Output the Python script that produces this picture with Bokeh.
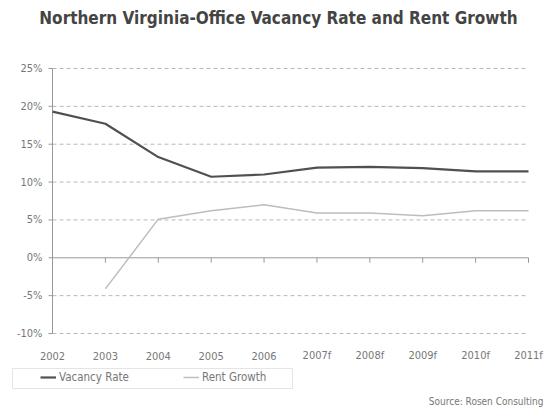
import math
from bokeh.plotting import figure
from bokeh.models import (ColumnDataSource, Range1d, Legend, LegendItem, Label,
                          BoxAnnotation)
from bokeh.core.properties import value
from bokeh.embed import file_html
from bokeh.resources import INLINE

categories = ["2002", "2003", "2004", "2005", "2006", "2007f", "2008f", "2009f", "2010f", "2011f"]
vacancy_rate = [19.3, 17.7, 13.3, 10.7, 11.0, 11.9, 12.0, 11.85, 11.4, 11.4]
rent_growth = [None, -4.1, 5.1, 6.2, 7.0, 5.9, 5.9, 5.55, 6.2, 6.2]
y_ticks = [-10, -5, 0, 5, 10, 15, 20, 25]
y_tick_labels = ["-10%", "-5%", "0%", "5%", "10%", "15%", "20%", "25%"]
title_text = "Northern Virginia-Office Vacancy Rate and Rent Growth"
source_text = "Source: Rosen Consulting"

FONT = "'DejaVu Sans Condensed', 'Liberation Sans Narrow', sans-serif"
AXIS_C = "#999999"
LABEL_C = "#777777"

# canvas / plotting-area geometry (pixels)
W, H = 544, 408
AX_L, AX_R, AX_T, AX_B = 52, 528, 68, 333

xs = list(range(len(categories)))
ymin, ymax = min(y_ticks), max(y_ticks)
kx = (AX_R - AX_L) / (xs[-1] - xs[0])
ky = (AX_B - AX_T) / (ymax - ymin)
x_range = Range1d(xs[0] - AX_L / kx, xs[-1] + (W - AX_R) / kx)
y_range = Range1d(ymin - (H - AX_B) / ky, ymax + AX_T / ky)

src_v = ColumnDataSource(dict(x=xs, y=vacancy_rate))
rx = [x for x, v in zip(xs, rent_growth) if v is not None]
ry = [v for v in rent_growth if v is not None]
src_r = ColumnDataSource(dict(x=rx, y=ry))

p = figure(width=W, height=H, output_backend="svg", toolbar_location=None,
           x_range=x_range, y_range=y_range, title=None,
           x_axis_type=None, y_axis_type=None,
           min_border_left=0, min_border_right=0, min_border_top=0, min_border_bottom=0)
p.outline_line_color = None
p.background_fill_color = "white"
p.border_fill_color = "white"
p.grid.visible = False

# dashed horizontal gridlines (not at 0)
grid_y = [t for t in y_ticks if t != 0]
p.segment(x0=[xs[0]] * len(grid_y), y0=grid_y, x1=[xs[-1]] * len(grid_y), y1=grid_y,
          line_color="#b8b8b8", line_width=1, line_dash="4 3")

# y axis line, ticks and labels
p.segment(x0=[xs[0]], y0=[ymin], x1=[xs[0]], y1=[ymax], line_color=AXIS_C, line_width=1)
p.ray(x=[xs[0]] * len(y_ticks), y=y_ticks, length=4, length_units="screen",
      angle=math.pi, line_color=AXIS_C, line_width=1)
p.text(x=[xs[0]] * len(y_ticks), y=y_ticks, text=y_tick_labels, x_offset=-10,
       text_align="right", text_baseline="middle", text_font=value(FONT),
       text_font_size="11px", text_color=LABEL_C)

# zero line with category ticks
p.segment(x0=[xs[0]], y0=[0], x1=[xs[-1]], y1=[0], line_color=AXIS_C, line_width=1)
p.ray(x=xs[1:], y=[0] * (len(xs) - 1), length=5, length_units="screen",
      angle=-math.pi / 2, line_color=AXIS_C, line_width=1)

# category labels under the plotting area
p.text(x=xs, y=[ymin] * len(xs), text=categories, y_offset=22,
       text_align="center", text_baseline="middle", text_font=value(FONT),
       text_font_size="11px", text_color=LABEL_C)

r1 = p.line("x", "y", source=src_v, line_color="#505050", line_width=2.2)
r2 = p.line("x", "y", source=src_r, line_color="#bdbdbd", line_width=1.5)

# legend box and legend
p.add_layout(BoxAnnotation(left=12, right=292, bottom=H - 388, top=H - 368,
                           left_units="screen", right_units="screen",
                           bottom_units="screen", top_units="screen",
                           fill_color=None, line_color="#aaaaaa", line_width=1))
legend = Legend(items=[LegendItem(label="Vacancy Rate", renderers=[r1]),
                       LegendItem(label="Rent Growth", renderers=[r2])],
                orientation="horizontal", location=(40, H - 384),
                label_text_font=FONT, label_text_font_size="11.5px",
                label_text_color=LABEL_C, border_line_color=None,
                background_fill_color=None, background_fill_alpha=0,
                glyph_width=16, glyph_height=12, label_height=12,
                label_standoff=3, label_width=124, spacing=0,
                padding=0, margin=0)
p.add_layout(legend)

# title and source
p.add_layout(Label(x=278, y=H - 17, x_units="screen", y_units="screen",
                   text=title_text, text_align="center", text_baseline="middle",
                   text_font=FONT, text_font_size="17px", text_font_style="bold",
                   text_color="#444444"))
p.add_layout(Label(x=W - 1, y=2, x_units="screen", y_units="screen",
                   text=source_text, text_align="right", text_baseline="bottom",
                   text_font=FONT, text_font_size="10px", text_color=LABEL_C))

open("out.html", "w").write(file_html(p, INLINE))
